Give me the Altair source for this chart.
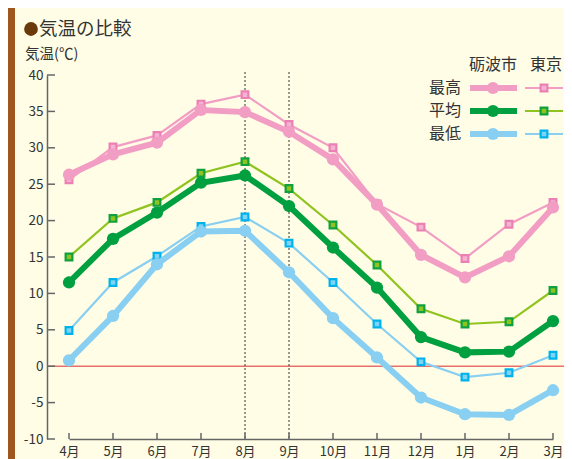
import altair as alt
import pandas as pd

months = ['4月', '5月', '6月', '7月', '8月', '9月', '10月', '11月', '12月', '1月', '2月', '3月']
series = ['最高', '平均', '最低']
tonami = {
    '最高': [26.3, 29.1, 30.7, 35.2, 34.9, 32.2, 28.4, 22.2, 15.3, 12.2, 15.1, 21.8],
    '平均': [11.5, 17.5, 21.1, 25.2, 26.2, 22.0, 16.3, 10.8, 4.0, 1.9, 2.0, 6.2],
    '最低': [0.8, 6.9, 14.0, 18.5, 18.6, 12.9, 6.6, 1.2, -4.3, -6.6, -6.7, -3.3],
}
tokyo = {
    '最高': [25.6, 30.1, 31.7, 36.0, 37.3, 33.2, 30.0, 22.3, 19.1, 14.8, 19.5, 22.5],
    '平均': [15.0, 20.3, 22.5, 26.5, 28.1, 24.4, 19.4, 13.9, 7.9, 5.8, 6.1, 10.4],
    '最低': [4.9, 11.5, 15.1, 19.2, 20.5, 16.9, 11.5, 5.8, 0.6, -1.5, -0.9, 1.5],
}
y_ticks = [-10, -5, 0, 5, 10, 15, 20, 25, 30, 35, 40]
marked_months = ['8月', '9月']

FONT = 'Noto Sans CJK JP'
TXT = '#333333'
BG = '#fffde6'
tonami_col = {'最高': '#f29ec4', '平均': '#00a040', '最低': '#88cff2'}
tokyo_line = {'最高': '#f29ec4', '平均': '#8fc31f', '最低': '#88cff2'}
tokyo_stroke = {'最高': '#ec80b4', '平均': '#10a040', '最低': '#00b2ec'}
tokyo_fill = {'最高': '#f5b3d2', '平均': '#8fc31f', '最低': '#7fd3f5'}

W, H = 517, 364
xscale = alt.Scale(type='point', domain=months, range=[22, 506], padding=0)
yscale = alt.Scale(domain=[-10, 40], nice=False, zero=False)
xaxis = alt.Axis(title=None, ticks=False, domain=True, domainColor='#666666', domainWidth=1.5,
                 labelAngle=0, labelPadding=6, labelFontSize=13, labelColor=TXT, labelFont=FONT,
                 grid=False)
yaxis = alt.Axis(title=None, ticks=False, domain=True, domainColor='#666666', domainWidth=1.5,
                 values=y_ticks, labelPadding=4, labelFontSize=13.5, labelColor=TXT, labelFont=FONT,
                 grid=False, labelExpr='toString(datum.value)')

X = alt.X('m:N', scale=xscale, axis=xaxis)
Y = alt.Y('v:Q', scale=yscale, axis=yaxis)

def frame(d, s):
    return pd.DataFrame({'m': months, 'v': d[s]})

one = pd.DataFrame({'a': [0]})
layers = []

# wood strip on the left
layers.append(alt.Chart(one).mark_rect(color='#a0561f').encode(
    x=alt.value(-39), x2=alt.value(-32), y=alt.value(-67), y2=alt.value(H + 20)))

# zero line
layers.append(alt.Chart(pd.DataFrame({'v': [0]})).mark_rule(color='#e7706c', strokeWidth=1.5).encode(y=Y))
# dotted month markers
layers.append(alt.Chart(pd.DataFrame({'m': marked_months})).mark_rule(
    color='#333333', strokeWidth=1, strokeDash=[2, 2]).encode(x=X, y=alt.value(-3), y2=alt.value(H)))
# inner ticks
layers.append(alt.Chart(pd.DataFrame({'v': y_ticks})).mark_rule(color='#666666', strokeWidth=1.5).encode(
    y=Y, x=alt.value(0), x2=alt.value(8)))
layers.append(alt.Chart(pd.DataFrame({'m': months})).mark_rule(color='#666666', strokeWidth=1.5).encode(
    x=X, y=alt.value(H), y2=alt.value(H - 6)))

# Tokyo
for s in series:
    d = frame(tokyo, s)
    layers.append(alt.Chart(d).mark_line(color=tokyo_line[s], strokeWidth=2.2).encode(x=X, y=Y))
for s in series:
    d = frame(tokyo, s)
    layers.append(alt.Chart(d).mark_point(shape='square', filled=True, fill=tokyo_fill[s],
                                          stroke=tokyo_stroke[s], strokeWidth=2.2, size=45,
                                          opacity=1).encode(x=X, y=Y))
# Tonami
for s in series:
    d = frame(tonami, s)
    layers.append(alt.Chart(d).mark_line(color=tonami_col[s], strokeWidth=6).encode(x=X, y=Y))
    layers.append(alt.Chart(d).mark_point(shape='circle', filled=True, color=tonami_col[s],
                                          size=150, opacity=1).encode(x=X, y=Y))

# title
layers.append(alt.Chart(one).mark_point(shape='circle', filled=True, color='#6b3a0c', size=190, opacity=1).encode(
    x=alt.value(-16), y=alt.value(-46)))
layers.append(alt.Chart(one).mark_text(text='気温の比較', font=FONT, fontSize=18.5, color=TXT,
                                       align='left', baseline='middle').encode(
    x=alt.value(-8), y=alt.value(-46)))
layers.append(alt.Chart(one).mark_text(text='気温(℃)', font=FONT, fontSize=14.5, color=TXT,
                                       align='left', baseline='middle').encode(
    x=alt.value(-22), y=alt.value(-20)))

# legend
layers.append(alt.Chart(one).mark_text(text='砺波市', font=FONT, fontSize=16, color=TXT,
                                       align='center', baseline='middle').encode(
    x=alt.value(446), y=alt.value(-10)))
layers.append(alt.Chart(one).mark_text(text='東京', font=FONT, fontSize=16, color=TXT,
                                       align='center', baseline='middle').encode(
    x=alt.value(499), y=alt.value(-10)))
row_y = [13, 36, 59]
for s, yy in zip(series, row_y):
    layers.append(alt.Chart(one).mark_text(text=s, font=FONT, fontSize=16, color=TXT,
                                           align='right', baseline='middle').encode(
        x=alt.value(414), y=alt.value(yy)))
    layers.append(alt.Chart(one).mark_rule(color=tonami_col[s], strokeWidth=6).encode(
        x=alt.value(423), x2=alt.value(470), y=alt.value(yy)))
    layers.append(alt.Chart(one).mark_point(shape='circle', filled=True, color=tonami_col[s],
                                            size=150, opacity=1).encode(
        x=alt.value(446), y=alt.value(yy)))
    layers.append(alt.Chart(one).mark_rule(color=tokyo_line[s], strokeWidth=2.2).encode(
        x=alt.value(478), x2=alt.value(516), y=alt.value(yy)))
    layers.append(alt.Chart(one).mark_point(shape='square', filled=True, fill=tokyo_fill[s],
                                            stroke=tokyo_stroke[s], strokeWidth=2.2, size=45,
                                            opacity=1).encode(
        x=alt.value(497), y=alt.value(yy)))

chart = alt.layer(*layers).properties(
    width=W, height=H,
    padding={'left': 39, 'top': 67, 'right': 0, 'bottom': 20},
    autosize=alt.AutoSizeParams(type='none'),
    background=BG,
).configure_view(stroke=None)

chart.save('out.html', embed_options={'renderer': 'svg', 'actions': False})
